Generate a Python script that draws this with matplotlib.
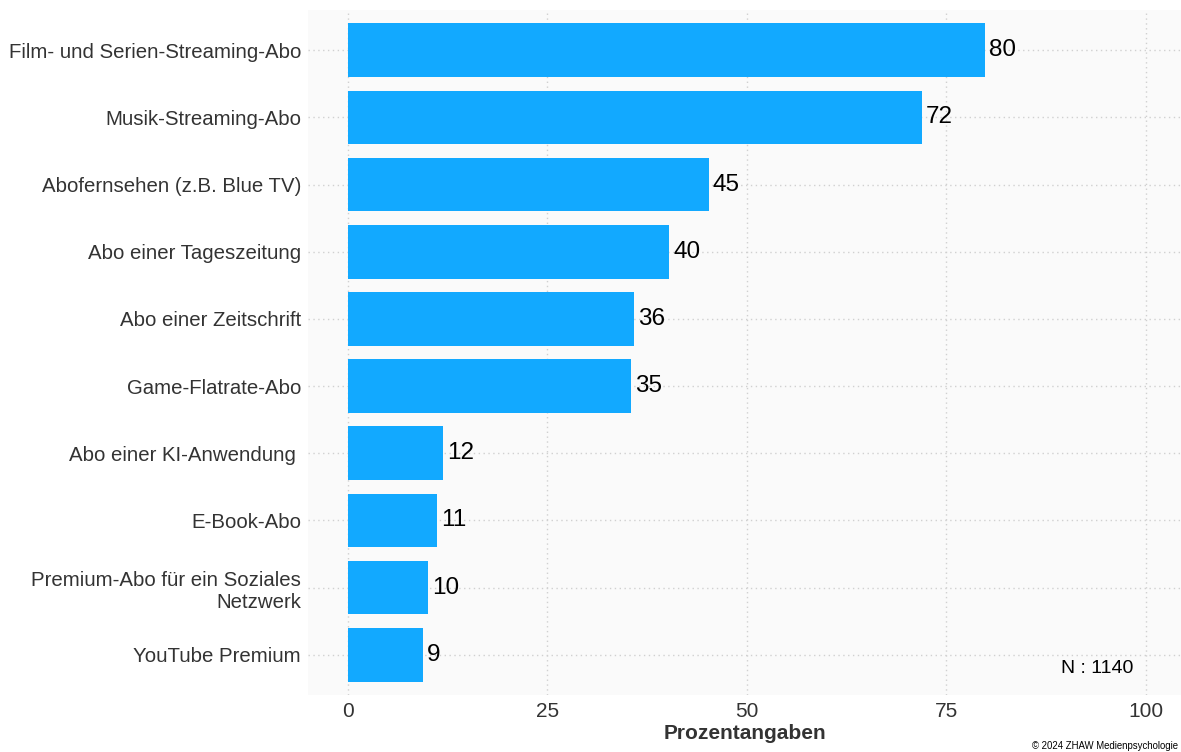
import matplotlib
matplotlib.use("Agg")
import matplotlib.pyplot as plt

# data (top to bottom)
categories = [
    "Film- und Serien-Streaming-Abo",
    "Musik-Streaming-Abo",
    "Abofernsehen (z.B. Blue TV)",
    "Abo einer Tageszeitung",
    "Abo einer Zeitschrift",
    "Game-Flatrate-Abo",
    "Abo einer KI-Anwendung ",
    "E-Book-Abo",
    "Premium-Abo für ein Soziales\nNetzwerk",
    "YouTube Premium",
]
values = [79.9, 71.9, 45.2, 40.3, 35.8, 35.5, 11.9, 11.2, 10.0, 9.4]
value_labels = ["80", "72", "45", "40", "36", "35", "12", "11", "10", "9"]
x_ticks = [0, 25, 50, 75, 100]

plt.rcParams["font.family"] = ["Liberation Sans", "DejaVu Sans"]

fig = plt.figure(figsize=(11.81, 7.52), dpi=100)
ax = fig.add_axes([0.2608, 1 - 695 / 752, 0.7392, 685 / 752])
ax.set_facecolor("#FAFAFA")

ypos = list(range(len(categories)))[::-1]
ax.barh(ypos, values, height=0.8, color="#12A9FF", zorder=3)

for y, v, lab in zip(ypos, values, value_labels):
    ax.text(v + 0.5, y, lab, ha="left", va="center", fontsize=17.5, color="black", zorder=4)

ax.set_xlim(-5, 104.4)
ax.set_ylim(-0.6, len(categories) - 0.4)
ax.set_xticks(x_ticks)
ax.set_yticks(ypos)
ax.set_yticklabels(categories)
ax.tick_params(axis="y", length=0, labelsize=14.7, colors="#333333", pad=5)
ax.tick_params(axis="x", length=0, labelsize=15, colors="#333333", pad=5)
ax.grid(True, color="#D0D0D0", linestyle=(0, (1, 2.5)), linewidth=1.0, zorder=0)
for s in ax.spines.values():
    s.set_visible(False)

ax.set_xlabel("Prozentangaben", fontsize=15, fontweight="bold", color="#333333", labelpad=2)
ax.text(0.946, 0.038, "N : 1140", transform=ax.transAxes, ha="right", va="center",
        fontsize=14, color="black")

fig.text(1 - 3 / 1181, 1 - 746 / 752, "© 2024 ZHAW Medienpsychologie", ha="right", va="center",
         fontsize=6.9, color="black")

fig.savefig("out.png", dpi=100)
